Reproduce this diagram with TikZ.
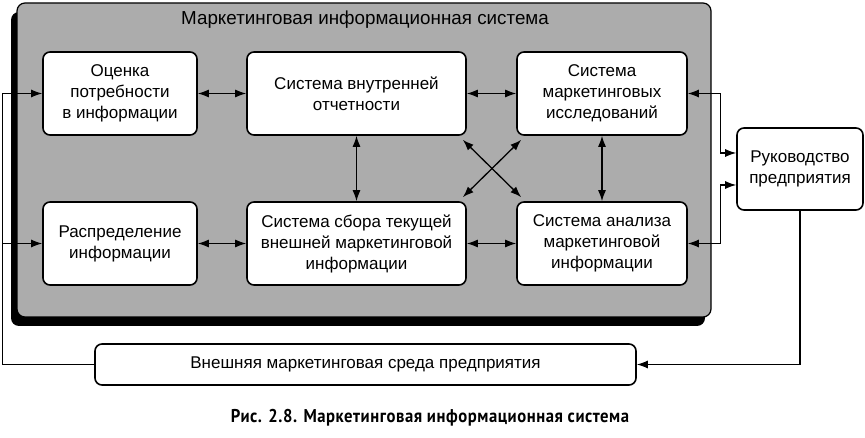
\documentclass[tikz,border=0pt]{standalone}
\usepackage{fontspec}
\setmainfont{Liberation Sans}
\newfontfamily\capfont[LetterSpace=3,FakeStretch=0.9]{PT Sans}
\usetikzlibrary{arrows.meta}
\definecolor{misgray}{RGB}{172,172,172}
\begin{document}
\begin{tikzpicture}[x=1pt,y=-1pt,
  box/.style={draw,line width=1.6pt,fill=white,rounded corners=7pt,align=center,inner sep=0pt,font=\fontsize{17}{21}\selectfont},
  link/.style={line width=1.3pt,{Latex[length=11pt,width=8pt]}-{Latex[length=11pt,width=8pt]}},
  feed/.style={line width=1.1pt,-{Latex[length=11pt,width=8pt]}}]
\useasboundingbox (0,0) rectangle (865,438);
\fill[rounded corners=8pt] (11,12) rectangle (705,326);
\draw[fill=misgray,line width=1.2pt,rounded corners=8pt] (17,3) rectangle (711,317);
\node[font=\fontsize{18.8}{21}\selectfont] (title) at (365,20) {Маркетинговая информационная система};
\node[box,minimum width=154pt,minimum height=83pt] (ocenka) at (120,93.5) {Оценка\\потребности\\в информации};
\node[box,minimum width=219pt,minimum height=83pt] (vnutr) at (356.5,93.5) {Система внутренней\\отчетности};
\node[box,minimum width=170pt,minimum height=83pt] (issled) at (602,93.5) {Система\\маркетинговых\\исследований};
\node[box,minimum width=154pt,minimum height=83pt] (raspr) at (120,243.5) {Распределение\\информации};
\node[box,minimum width=219pt,minimum height=83pt] (sbor) at (356.5,243.5) {Система сбора текущей\\внешней маркетинговой\\информации};
\node[box,minimum width=170pt,minimum height=83pt] (analiz) at (602,243.5) {Система анализа\\маркетинговой\\информации};
\node[box,minimum width=126pt,minimum height=82pt] (ruk) at (800,169) {Руководство\\предприятия};
\node[box,minimum width=541pt,minimum height=41pt] (vnesh) at (365.5,364.5) {Внешняя маркетинговая среда предприятия};
\node[font=\capfont\bfseries\fontsize{18.5}{22}\selectfont] (caption) at (430,418) {Рис. 2.8. Маркетинговая информационная система};
\draw[link] (ocenka) -- (vnutr);
\draw[link] (vnutr) -- (issled);
\draw[link] (raspr) -- (sbor);
\draw[link] (sbor) -- (analiz);
\draw[link] (vnutr) -- (sbor);
\draw[link] (issled) -- (analiz);
\draw[link] ([shift={(-4,4)}]vnutr.south east) -- ([shift={(5,-4)}]analiz.north west);
\draw[link] ([shift={(5,4)}]issled.south west) -- ([shift={(-4,-4)}]sbor.north east);
\draw[link,line width=1.1pt] (issled.east) -- ++(33,0) |- ([yshift=16pt]ruk.west);
\draw[link,line width=1.1pt] (analiz.east) -- ++(33,0) |- ([yshift=-16pt]ruk.west);
\draw[feed] (vnesh.west) -| ([xshift=-40pt]ocenka.west) -- (ocenka.west);
\draw[feed] ([xshift=-40pt]raspr.west) -- (raspr.west);
\draw[feed] (ruk.south) |- (vnesh.east);
\end{tikzpicture}
\end{document}
